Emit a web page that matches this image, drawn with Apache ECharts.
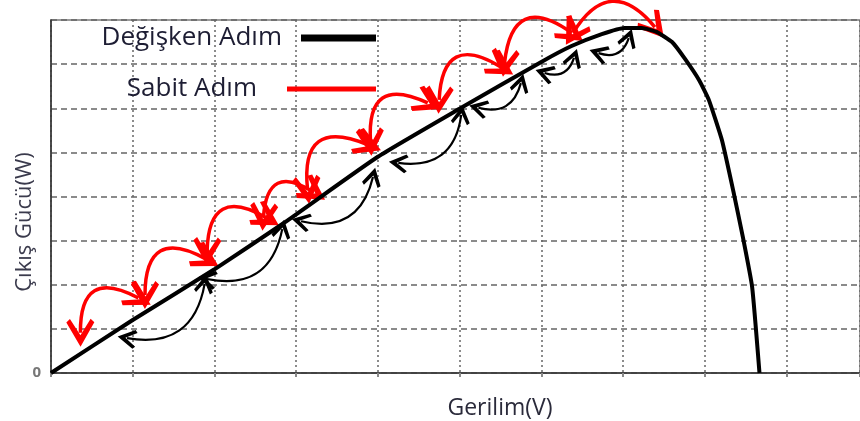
<!DOCTYPE html>
<html>
<head>
<meta charset="utf-8">
<script src="https://cdn.jsdelivr.net/npm/echarts@6/dist/echarts.min.js"></script>
<style>
  html, body { margin: 0; padding: 0; background: #fff; }
  #chart { width: 860px; height: 421px; }
</style>
</head>
<body>
<div id="chart"></div>
<script>
// P–V characteristic of the panel (voltage and power in grid units)
const curveV = [0, 1.0, 2.0, 2.85, 4.0, 5.02, 6.0, 6.37, 6.74, 7.02, 7.23, 7.41, 7.60, 7.75, 7.93, 8.05, 8.21, 8.35, 8.47, 8.58, 8.67];
const curveP = [0, 1.2, 2.35, 3.4, 4.9, 6.01, 7.05, 7.41, 7.68, 7.82, 7.82, 7.73, 7.50, 7.14, 6.64, 6.19, 5.28, 4.12, 3.05, 1.95, 0];

// Fixed-step MPPT moves (start and end operating points)
const fixedFromV = [0.36, 1.15, 1.91, 2.60, 3.14, 3.91, 4.75, 5.55, 6.39];
const fixedFromP = [0.91, 1.77, 2.76, 3.54, 4.15, 5.24, 6.19, 7.03, 7.71];
const fixedToV   = [1.07, 1.90, 2.64, 3.21, 3.88, 4.61, 5.51, 6.37, 7.39];
const fixedToP   = [1.70, 2.58, 3.51, 4.10, 5.17, 6.12, 6.93, 7.71, 7.84];

// Variable-step MPPT moves (start and end operating points)
const varFromV = [0.93, 1.91, 3.06, 4.25, 5.23, 6.04, 6.70];
const varFromP = [0.79, 2.13, 3.44, 4.76, 6.01, 6.80, 7.25];
const varToV   = [1.88, 2.83, 3.94, 5.02, 5.75, 6.40, 7.07];
const varToP   = [2.02, 3.26, 4.44, 5.85, 6.57, 7.14, 7.59];

const LABEL_FIXED = 'Sabit Adım';
const LABEL_VAR = 'Değişken Adım';
const AXIS_X = 'Gerilim(V)';
const AXIS_Y = 'Çıkış Gücü(W)';

// open chevron arrow head, pointing up in its own frame
const chevron = 'path://M5,0 L10,7 L8.7,8 L5,3.3 L1.3,8 L0,7 Z';

const curveData = curveV.map((v, i) => [v, curveP[i]]);

const fixedData = fixedFromV.map((v, i) => ({
  coords: [[v, fixedFromP[i]], [fixedToV[i], fixedToP[i]]],
  lineStyle: { curveness: i === fixedFromV.length - 1 ? 0.7 : 0.85 }
}));

const varData = varFromV.map((v, i) => ({
  coords: [[v, varFromP[i]], [varToV[i], varToP[i]]]
}));

const chart = echarts.init(document.getElementById('chart'), null, { renderer: 'canvas' });

const legendText = {
  fontFamily: '"Open Sans", sans-serif',
  fontSize: 26,
  color: '#1d1d33'
};

chart.setOption({
  animation: false,
  backgroundColor: '#fff',
  grid: {
    left: 51, top: 20, right: 0, height: 353,
    show: true, borderColor: '#7a7a7a', borderWidth: 1.5, backgroundColor: 'transparent'
  },
  legend: [
    {
      data: [{ name: LABEL_VAR, icon: 'rect', itemStyle: { color: '#000' } }],
      right: 484, top: 25, padding: 0, align: 'right', selectedMode: false,
      itemWidth: 73, itemHeight: 5,
      textStyle: Object.assign({ padding: [0, 15, 0, 0] }, legendText)
    },
    {
      data: [{ name: LABEL_FIXED, icon: 'rect', itemStyle: { color: '#ff0000' } }],
      right: 484, top: 76, padding: 0, align: 'right', selectedMode: false,
      itemWidth: 87, itemHeight: 3,
      textStyle: Object.assign({ padding: [0, 26, 0, 0] }, legendText)
    }
  ],
  xAxis: {
    type: 'value', min: 0, max: 9.9, interval: 1,
    axisLine: { lineStyle: { color: '#333', width: 1.5 } },
    axisTick: { show: true, length: 4, lineStyle: { color: '#888', width: 2 } },
    axisLabel: { show: false },
    splitLine: { show: true, lineStyle: { color: '#666', width: 1.5, type: [2, 3] } }
  },
  yAxis: {
    type: 'value', min: 0, max: 8, interval: 1,
    axisLine: { show: true, lineStyle: { color: '#333', width: 1.5 } },
    axisTick: { show: false },
    axisLabel: {
      margin: 10, color: '#777', fontSize: 15, fontWeight: 'bold',
      fontFamily: '"Open Sans", sans-serif',
      formatter: v => (v === 0 ? '0' : '')
    },
    splitLine: { show: true, lineStyle: { color: '#666', width: 1.5, type: [6, 4] } }
  },
  graphic: [
    {
      type: 'text', x: 500, y: 408,
      style: { text: AXIS_X, font: '23px "Open Sans", sans-serif', fill: '#2a2a3a', align: 'center', verticalAlign: 'middle' }
    },
    {
      type: 'text', x: 25, y: 222, rotation: Math.PI / 2,
      style: { text: AXIS_Y, font: '22px "Open Sans", sans-serif', fill: '#3a3a4c', align: 'center', verticalAlign: 'middle' }
    }
  ],
  series: [
    {
      name: LABEL_FIXED,
      type: 'lines',
      coordinateSystem: 'cartesian2d',
      clip: false,
      symbol: [chevron, chevron],
      symbolSize: 28,
      lineStyle: { color: '#ff0000', width: 3.5, opacity: 1 },
      itemStyle: { color: '#ff0000' },
      data: fixedData,
      z: 3
    },
    {
      name: LABEL_VAR,
      type: 'lines',
      coordinateSystem: 'cartesian2d',
      clip: false,
      symbol: [chevron, chevron],
      symbolSize: 19,
      lineStyle: { color: '#000', width: 2.2, opacity: 1, curveness: -0.5 },
      itemStyle: { color: '#000' },
      data: varData,
      z: 3
    },
    {
      name: 'P-V',
      type: 'line',
      data: curveData,
      smooth: 0.15,
      showSymbol: false,
      lineStyle: { color: '#000', width: 4 },
      z: 4
    }
  ]
});
</script>
</body>
</html>
